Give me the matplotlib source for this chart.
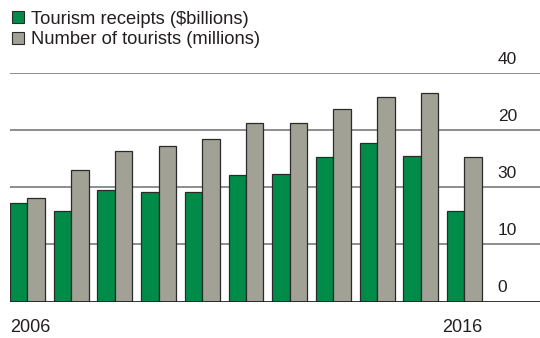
import matplotlib
matplotlib.use("Agg")
import matplotlib.pyplot as plt
import matplotlib.transforms as mtransforms
from matplotlib.patches import Rectangle
import numpy as np

plt.rcParams['font.family'] = ['Liberation Sans', 'DejaVu Sans']

years = list(range(2006, 2017))
receipts = [17.2, 15.8, 19.5, 19.1, 19.1, 22.2, 22.3, 25.3, 27.8, 25.4, 15.8]
tourists = [18.2, 23.0, 26.3, 27.2, 28.5, 31.3, 31.3, 33.8, 35.9, 36.6, 25.3]
series_names = ["Tourism receipts ($billions)", "Number of tourists (millions)"]
tick_values = [0, 10, 20, 30, 40]
tick_labels = ["0", "10", "30", "20", "40"]
x_labels = {0: "2006", 10: "2016"}

green = "#008C48"
grey = "#A1A195"
edge = "#2a2a2a"
text_color = "#231f20"

W, H = 540, 338
fig = plt.figure(figsize=(W / 100, H / 100), dpi=100)
ax_left = 10 / W
ax_bottom = (H - 301.5) / H
ax_top = (H - 73.1) / H
ax = fig.add_axes([ax_left, ax_bottom, 1 - ax_left, ax_top - ax_bottom])

x = np.arange(len(years))
bw = 0.4
ax.bar(x - bw / 2, receipts, bw, color=green, edgecolor=edge, linewidth=0.9, zorder=3)
ax.bar(x + bw / 2, tourists, bw, color=grey, edgecolor=edge, linewidth=0.9, zorder=3)

unit_px = 43.7
ax.set_xlim(-0.4, -0.4 + (W - 10) / unit_px)
ax.set_ylim(0, 40)

for v in tick_values[1:]:
    ax.axhline(v, color="#6f6f6f", linewidth=1.1, zorder=1)
ax.axhline(0, color="#222222", linewidth=1.3, zorder=4)

for s in ax.spines.values():
    s.set_visible(False)
ax.set_xticks([])
ax.set_yticks([])

# right-side value labels, above gridlines
offset = mtransforms.ScaledTranslation(0, 6 / 100, fig.dpi_scale_trans)
trans = mtransforms.blended_transform_factory(ax.transAxes, ax.transData) + offset
for v, lab in zip(tick_values, tick_labels):
    ax.text((497.7 - 10) / (W - 10), v, lab, transform=trans, ha="left", va="bottom",
            fontsize=12.5, color=text_color)

# x labels
xl_trans = ax.transData + mtransforms.ScaledTranslation(0, -18 / 100, fig.dpi_scale_trans)
for i, lab in x_labels.items():
    if i == 0:
        ax.text(i - bw, 0, lab, ha="left", va="top", fontsize=13, color=text_color,
                transform=xl_trans)
    else:
        ax.text(i + bw, 0, lab, ha="right", va="top", fontsize=13, color=text_color,
                transform=xl_trans)

# legend
for k, (name, col) in enumerate(zip(series_names, [green, grey])):
    top_px = 11 + k * 20.7
    fig.patches.append(Rectangle((12 / W, 1 - (top_px + 12) / H), 12 / W, 12 / H,
                                 transform=fig.transFigure, facecolor=col,
                                 edgecolor=edge, linewidth=0.8))
    fig.text(31 / W, 1 - (top_px + 6) / H, name, ha="left", va="center_baseline",
             fontsize=13.2, color=text_color)

fig.savefig("out.png", dpi=100)
